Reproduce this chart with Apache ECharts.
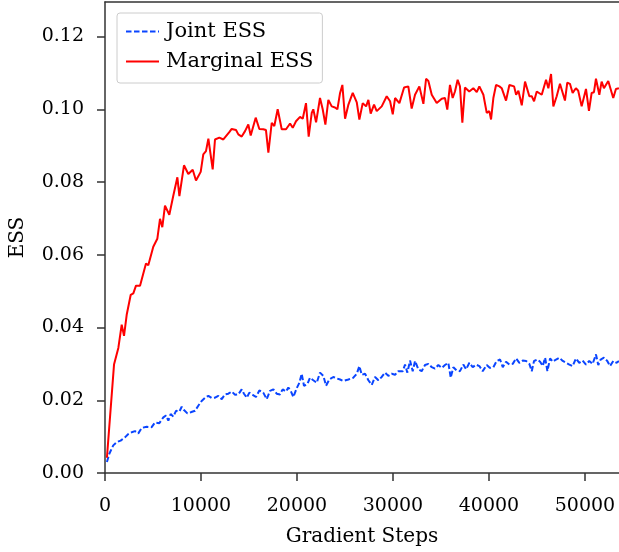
<!DOCTYPE html>
<html>
<head>
<meta charset="utf-8">
<script src="https://cdn.jsdelivr.net/npm/echarts@6/dist/echarts.min.js"></script>
<style>
  html, body { margin: 0; padding: 0; background: #fff; }
  #essChart { width: 619px; height: 552px; }
</style>
</head>
<body>
<div id="essChart"></div>
<script>
// tick labels
var xTicks = [0, 10000, 20000, 30000, 40000, 50000];
var yTicks = [0, 0.02, 0.04, 0.06, 0.08, 0.10, 0.12];

// Joint ESS (blue dashed)
var jointSteps = [200, 450, 860, 1220, 1630, 2080, 2430, 2780, 3130, 3470, 3820, 4340, 4860, 5210, 5660, 6080, 6350, 6600, 6840, 7120,
  7400, 7750, 7990, 8230, 8580, 8930, 9380, 9720, 10070, 10520, 10770, 11120, 11460, 11810, 12160, 12500, 12850, 13200, 13550, 13890,
  14240, 14480, 14770, 15040, 15390, 15730, 16080, 16490, 16850, 17190, 17540, 17890, 18230, 18510, 18860, 19100, 19350, 19620, 19970, 20250,
  20490, 20730, 21080, 21360, 21700, 22060, 22400, 22750, 23030, 23370, 23790, 24140, 24490, 24830, 25360, 25870, 26230, 26500, 26750, 27090,
  27440, 27790, 28130, 28480, 28830, 29180, 29520, 29870, 30220, 30560, 31020, 31260, 31500, 31780, 32060, 32300, 32650, 32990, 33340, 33690,
  34040, 34380, 34730, 35080, 35420, 35770, 36020, 36290, 36640, 36980, 37330, 37620, 37960, 38310, 38660, 39000, 39350, 39770, 40110, 40460,
  40810, 41160, 41440, 41780, 42130, 42480, 42830, 43170, 43520, 43870, 44210, 44460, 44700, 45050, 45330, 45610, 45850, 46090, 46370, 46650,
  46990, 47340, 47690, 48030, 48380, 48720, 49060, 49410, 49760, 50110, 50450, 50800, 51150, 51390, 51640, 51980, 52330, 52610, 52960, 53300, 53540];
var jointEss = [0.0030, 0.0053, 0.0076, 0.0085, 0.0089, 0.0098, 0.0107, 0.0112, 0.0115, 0.0109, 0.0124, 0.0127, 0.0126, 0.0139, 0.0137, 0.0153, 0.0158, 0.0144, 0.0162, 0.0155,
  0.0171, 0.0169, 0.0182, 0.0173, 0.0164, 0.0167, 0.0171, 0.0185, 0.0198, 0.0209, 0.0212, 0.0206, 0.0207, 0.0212, 0.0203, 0.0216, 0.0218, 0.0224, 0.0215, 0.0216,
  0.0230, 0.0218, 0.0207, 0.0221, 0.0215, 0.0209, 0.0227, 0.0221, 0.0203, 0.0226, 0.0230, 0.0218, 0.0216, 0.0230, 0.0224, 0.0235, 0.0226, 0.0209, 0.0233, 0.0248,
  0.0273, 0.0240, 0.0244, 0.0262, 0.0255, 0.0248, 0.0276, 0.0267, 0.0240, 0.0257, 0.0264, 0.0260, 0.0257, 0.0253, 0.0257, 0.0262, 0.0273, 0.0294, 0.0270, 0.0273,
  0.0255, 0.0242, 0.0264, 0.0255, 0.0264, 0.0276, 0.0267, 0.0273, 0.0270, 0.0280, 0.0280, 0.0298, 0.0276, 0.0309, 0.0280, 0.0308, 0.0285, 0.0280, 0.0297, 0.0300,
  0.0291, 0.0287, 0.0297, 0.0289, 0.0297, 0.0303, 0.0262, 0.0291, 0.0282, 0.0280, 0.0298, 0.0285, 0.0303, 0.0291, 0.0298, 0.0294, 0.0280, 0.0297, 0.0289, 0.0291,
  0.0308, 0.0312, 0.0291, 0.0306, 0.0298, 0.0300, 0.0315, 0.0303, 0.0309, 0.0308, 0.0300, 0.0280, 0.0308, 0.0312, 0.0306, 0.0294, 0.0317, 0.0280, 0.0315, 0.0306,
  0.0312, 0.0317, 0.0308, 0.0303, 0.0298, 0.0294, 0.0315, 0.0303, 0.0309, 0.0298, 0.0308, 0.0300, 0.0326, 0.0297, 0.0312, 0.0317, 0.0308, 0.0294, 0.0308, 0.0303, 0.0308];

// Marginal ESS (red solid)
var marginalSteps = [200, 940, 1390, 1740, 1980, 2260, 2680, 2950, 3230, 3650, 4270, 4510, 5030, 5450, 5730, 5970, 6250, 6700, 7120, 7540,
  7750, 8230, 8680, 9140, 9480, 9970, 10240, 10520, 10770, 10940, 11220, 11460, 11910, 12330, 12950, 13200, 13650, 13890, 14240, 14590,
  14930, 15180, 15700, 16080, 16490, 16770, 17020, 17370, 17640, 17990, 18410, 18860, 19280, 19560, 19900, 20320, 20600, 20940, 21220, 21540,
  21700, 21990, 22400, 22680, 22960, 23270, 23620, 23960, 24210, 24490, 24730, 25010, 25360, 25810, 26230, 26500, 26850, 27200, 27440, 27680,
  28030, 28310, 28830, 29350, 29700, 29980, 30220, 30670, 31160, 31600, 31950, 32300, 32750, 32890, 33170, 33450, 33690, 34040, 34560, 35080,
  35420, 35660, 35940, 36220, 36460, 36740, 36980, 37230, 37500, 37950, 38370, 38730, 39000, 39420, 39770, 40040, 40220, 40460, 40740, 41090,
  41330, 41780, 42130, 42620, 42830, 43070, 43420, 43760, 44210, 44460, 44700, 44980, 45500, 45950, 46190, 46470, 46710, 47060, 47400, 47920,
  48160, 48440, 48720, 49060, 49300, 49660, 50110, 50420, 50700, 50940, 51150, 51500, 51740, 51980, 52430, 52950, 53230, 53540];
var marginalEss = [0.0042, 0.0298, 0.0344, 0.0408, 0.0377, 0.0435, 0.0490, 0.0494, 0.0515, 0.0515, 0.0576, 0.0571, 0.0622, 0.0644, 0.0699, 0.0676, 0.0735, 0.0710, 0.0763, 0.0813,
  0.0761, 0.0846, 0.0822, 0.0834, 0.0804, 0.0828, 0.0876, 0.0885, 0.0919, 0.0917, 0.0835, 0.0917, 0.0922, 0.0917, 0.0937, 0.0946, 0.0943, 0.0931, 0.0925, 0.0940,
  0.0958, 0.0928, 0.0977, 0.0946, 0.0945, 0.0943, 0.0881, 0.0963, 0.0954, 0.1000, 0.0945, 0.0945, 0.0961, 0.0949, 0.0967, 0.0979, 0.0974, 0.1017, 0.0925, 0.0990,
  0.1000, 0.0964, 0.1031, 0.1000, 0.0958, 0.1026, 0.1008, 0.1005, 0.1000, 0.1045, 0.1067, 0.0974, 0.1013, 0.1045, 0.1019, 0.0972, 0.1017, 0.1008, 0.1026, 0.0988,
  0.1013, 0.0995, 0.1008, 0.1036, 0.1022, 0.0986, 0.1031, 0.1017, 0.1060, 0.1063, 0.1002, 0.1040, 0.1063, 0.1063, 0.1015, 0.1084, 0.1078, 0.1040, 0.1017, 0.1029,
  0.1031, 0.0999, 0.1067, 0.1031, 0.1049, 0.1081, 0.1063, 0.0963, 0.1060, 0.1049, 0.1058, 0.1047, 0.1063, 0.1040, 0.0990, 0.0995, 0.0972, 0.1031, 0.1067, 0.1063,
  0.1058, 0.1024, 0.1067, 0.1063, 0.1040, 0.1051, 0.1011, 0.1076, 0.1036, 0.1036, 0.1022, 0.1049, 0.1040, 0.1081, 0.1058, 0.1097, 0.1008, 0.1036, 0.1070, 0.1024,
  0.1073, 0.1070, 0.1045, 0.1058, 0.1051, 0.1008, 0.1056, 0.0996, 0.1045, 0.1047, 0.1084, 0.1040, 0.1076, 0.1058, 0.1078, 0.1031, 0.1056, 0.1058];

function zip(xs, ys) {
  return xs.map(function (x, i) { return [x, ys[i]]; });
}

var serif = 'DejaVu Serif';
var spine = '#333';

var chart = echarts.init(document.getElementById('essChart'));
chart.setOption({
  animation: false,
  grid: { left: 105, right: 0, top: 2, bottom: 76 },
  legend: {
    left: 117,
    top: 13,
    orient: 'vertical',
    padding: [8, 9, 11, 8],
    itemGap: 9,
    itemWidth: 33,
    itemHeight: 14,
    backgroundColor: 'rgba(255,255,255,0.8)',
    borderColor: '#cccccc',
    borderWidth: 1,
    borderRadius: 3,
    itemStyle: { opacity: 0 },   // hide the circle, keep only the line sample
    lineStyle: { width: 2 },
    textStyle: { fontFamily: serif, fontSize: 21, color: '#000', padding: [0, 0, 0, 2] },
    data: ['Joint ESS', 'Marginal ESS']
  },
  xAxis: [{
    type: 'value',
    min: 0,
    max: 53550,
    name: 'Gradient Steps',
    nameLocation: 'middle',
    nameGap: 54,
    nameTextStyle: { fontFamily: serif, fontSize: 20, color: '#000' },
    splitLine: { show: false },
    axisLine: { show: true, onZero: false, lineStyle: { color: spine, width: 1.5 } },
    axisTick: { show: true, length: 8, customValues: xTicks, lineStyle: { color: spine, width: 1.5 } },
    axisLabel: {
      customValues: xTicks,
      margin: 24,
      fontFamily: serif, fontSize: 19, color: '#000',
      formatter: function (v) { return String(v); }
    }
  }, {
    type: 'value',
    position: 'top',
    min: 0,
    max: 53550,
    splitLine: { show: false },
    axisLine: { show: true, onZero: false, lineStyle: { color: spine, width: 1.5 } },
    axisTick: { show: false },
    axisLabel: { show: false }
  }],
  yAxis: {
    type: 'value',
    min: 0,
    max: 0.1295,
    name: 'ESS',
    nameLocation: 'middle',
    nameGap: 77,
    nameTextStyle: { fontFamily: serif, fontSize: 20, color: '#000' },
    splitLine: { show: false },
    axisLine: { show: true, onZero: false, lineStyle: { color: spine, width: 1.5 } },
    axisTick: { show: true, length: 8, customValues: yTicks, lineStyle: { color: spine, width: 1.5 } },
    axisLabel: {
      customValues: yTicks,
      margin: 21,
      fontFamily: serif, fontSize: 19, color: '#000',
      formatter: function (v) { return v.toFixed(2); }
    }
  },
  series: [{
    name: 'Joint ESS',
    type: 'line',
    symbol: 'none',
    color: '#0a45ff',
    lineStyle: { width: 2, type: [5.5, 2.5], color: '#0a45ff' },
    data: zip(jointSteps, jointEss)
  }, {
    name: 'Marginal ESS',
    type: 'line',
    symbol: 'none',
    color: '#ff0000',
    lineStyle: { width: 2, color: '#ff0000' },
    data: zip(marginalSteps, marginalEss)
  }]
});
</script>
</body>
</html>
